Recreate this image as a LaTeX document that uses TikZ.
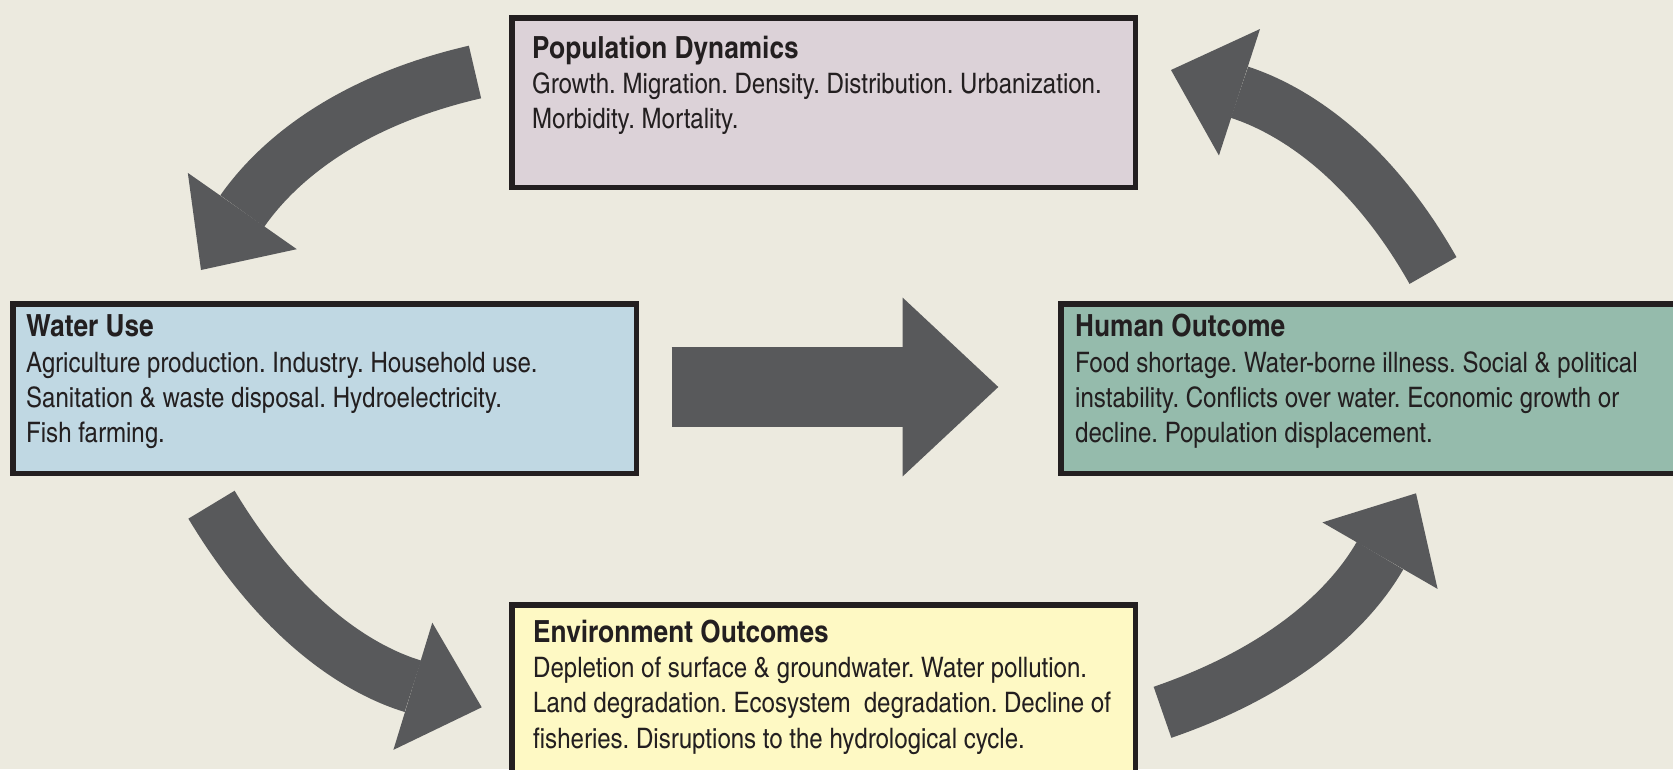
\documentclass[tikz,border=0pt]{standalone}
\usepackage{fontspec}
\setmainfont{texgyreheroscn}[Extension=.otf, UprightFont=*-regular, BoldFont=*-bold, FakeStretch=1.04]
\newfontfamily\headfont{texgyreheroscn}[Extension=.otf, UprightFont=*-bold, FakeStretch=1.05]
\usetikzlibrary{arrows.meta,positioning}
\definecolor{paper}{HTML}{ECEADF}
\definecolor{popfill}{HTML}{DCD2D8}
\definecolor{waterfill}{HTML}{C0D8E3}
\definecolor{humanfill}{HTML}{95BBAC}
\definecolor{envfill}{HTML}{FEF9C4}
\definecolor{boxline}{HTML}{231F20}
\definecolor{arrowgray}{HTML}{58595B}
\newcommand{\boxhead}[1]{{\headfont\fontsize{30.5}{35.3}\selectfont #1}}
\tikzset{%
	box/.style       = {draw=boxline, line width=5.5pt, rectangle, minimum width=623.5pt, minimum height=169.5pt, inner sep=0pt},
	boxtext/.style   = {anchor=base west, align=left, inner sep=0pt, text=boxline, font=\fontsize{28.2}{35.3}\selectfont},
	bigarrow/.style  = {draw=arrowgray, line width=54pt, -{Triangle[length=72pt, width=133pt, line width=0pt]}},
	widearrow/.style = {draw=arrowgray, line width=80pt, -{Triangle[length=95.6pt, width=178.7pt, line width=0pt]}},
}

\begin{document}
\frenchspacing
\begin{tikzpicture}[x=1pt, y=1pt]
	\useasboundingbox (0,0) rectangle (1673,-769);
	\clip (0,0) rectangle (1673,-769);
	\fill[paper] (0,0) rectangle (1673,-769);
	
	% the four boxes
	\node[box, fill=popfill] (pop) at (823.5,-102.5) {};
	\node[box, fill=waterfill] (water) at (324.5,-388.5) {};
	\node[box, fill=humanfill] (human) at (1372.5,-388.5) {};
	\node[box, fill=envfill] (env) at (823.5,-689.5) {};
	
	% texts, base anchor sits on the last line
	\node[boxtext] (poptext) at ([shift={(23,-113.9)}]pop.north west)
		{\boxhead{Population Dynamics}\\Growth. Migration. Density. Distribution. Urbanization.\\Morbidity. Mortality.};
	\node[boxtext] (watertext) at ([shift={(16,-141.6)}]water.north west)
		{\boxhead{Water Use}\\Agriculture production. Industry. Household use.\\Sanitation \& waste disposal. Hydroelectricity.\\Fish farming.};
	\node[boxtext] (humantext) at ([shift={(17,-141.6)}]human.north west)
		{\boxhead{Human Outcome}\\Food shortage. Water-borne illness. Social \& political\\instability. Conflicts over water. Economic growth or\\decline. Population displacement.};
	\node[boxtext] (envtext) at ([shift={(24,-146.2)}]env.north west)
		{\boxhead{Environment Outcomes}\\Depletion of surface \& groundwater. Water pollution.\\Land degradation. Ecosystem~ degradation. Decline of\\fisheries. Disruptions to the hydrological cycle.};
	
	% arrow ends
	\coordinate (popout) at (475,-72);
	\coordinate (waterin) at (201,-270);
	\coordinate (waterout) at (211.5,-504.7);
	\coordinate (envin) at (481.7,-707.3);
	\coordinate (envout) at (1162.5,-712.3);
	\coordinate (humanin) at (1416,-493.3);
	\coordinate (humanout) at (1433,-270.5);
	\coordinate (popin) at (1171,-70);
	\coordinate (midout) at (671.7,-387);
	\coordinate (midin) at (998.3,-387);
	
	\draw[bigarrow] (popout) to[out=193, in=55] (waterin);
	\draw[bigarrow] (waterout) to[out=-59, in=163] (envin);
	\draw[bigarrow] (envout) to[out=19, in=240] (humanin);
	\draw[bigarrow] (humanout) to[out=119.5, in=-18] (popin);
	\draw[widearrow] (midout) -- (midin);
\end{tikzpicture}
\end{document}
